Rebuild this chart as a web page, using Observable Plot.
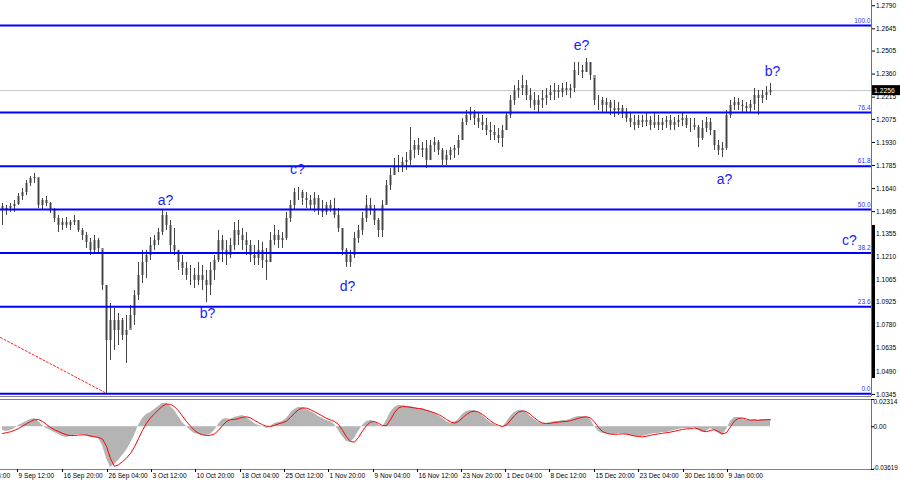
<!DOCTYPE html>
<html><head><meta charset="utf-8">
<script src="https://cdn.jsdelivr.net/npm/d3@7"></script>
<script src="https://cdn.jsdelivr.net/npm/@observablehq/plot@0.6"></script>
<style>
html,body{margin:0;padding:0;background:#fff;}
#chart{width:900px;height:485px;position:relative;overflow:hidden;background:#fff;}
#chart svg{display:block;}
</style></head><body><div id="chart"></div>
<script>
// ---- price bars (H4, sampled), bar index = position on time axis ----
const highs = [
1.1546,1.1534,1.1546,1.1565,1.1609,1.1640,1.1691,1.1716,1.1735,1.1703,
1.1578,1.1590,1.1552,1.1515,1.1471,1.1452,1.1458,1.1439,1.1471,1.1439,
1.1389,1.1364,1.1326,1.1345,1.1326,1.1251,1.1030,1.0917,1.0886,1.0854,
1.0823,1.0842,1.0905,1.0999,1.1175,1.1251,1.1251,1.1332,1.1345,1.1389,
1.1502,1.1490,1.1439,1.1389,1.1251,1.1219,1.1175,1.1156,1.1137,1.1175,
1.1156,1.1125,1.1175,1.1219,1.1376,1.1345,1.1313,1.1326,1.1427,1.1439,
1.1389,1.1364,1.1313,1.1282,1.1313,1.1301,1.1263,1.1364,1.1408,1.1376,
1.1364,1.1490,1.1565,1.1640,1.1647,1.1628,1.1615,1.1596,1.1615,1.1596,
1.1565,1.1552,1.1565,1.1578,1.1515,1.1389,1.1263,1.1251,1.1364,1.1408,
1.1490,1.1596,1.1578,1.1534,1.1452,1.1565,1.1691,1.1766,1.1829,1.1848,
1.1835,1.1867,1.2024,1.1942,1.1955,1.1930,1.1942,1.1942,1.1961,1.1942,
1.1892,1.1880,1.1898,1.1911,1.1974,1.2081,1.2131,1.2150,1.2131,1.2119,
1.2100,1.2081,1.2056,1.2037,1.2018,1.2037,1.2119,1.2225,1.2288,1.2320,
1.2351,1.2320,1.2269,1.2244,1.2225,1.2257,1.2269,1.2288,1.2301,1.2288,
1.2301,1.2307,1.2295,1.2433,1.2433,1.2414,1.2458,1.2433,1.2332,1.2225,
1.2213,1.2207,1.2194,1.2194,1.2181,1.2163,1.2144,1.2119,1.2100,1.2100,
1.2100,1.2112,1.2093,1.2119,1.2100,1.2081,1.2093,1.2100,1.2087,1.2100,
1.2112,1.2100,1.2081,1.2081,1.2037,1.2068,1.2087,1.2081,1.2005,1.1942,
1.1930,1.2131,1.2194,1.2213,1.2207,1.2194,1.2181,1.2194,1.2269,1.2257,
1.2257,1.2282,1.2301];
const lows = [
1.1408,1.1471,1.1490,1.1490,1.1534,1.1565,1.1596,1.1653,1.1672,1.1515,
1.1502,1.1527,1.1483,1.1427,1.1364,1.1376,1.1389,1.1376,1.1408,1.1364,
1.1313,1.1263,1.1219,1.1238,1.1238,1.0999,1.0352,1.0559,1.0622,1.0653,
1.0684,1.0540,1.0760,1.0779,1.0936,1.1043,1.1074,1.1188,1.1251,1.1282,
1.1345,1.1376,1.1232,1.1219,1.1125,1.1093,1.1062,1.1030,1.1011,1.1030,
1.0999,1.0923,1.0967,1.1062,1.1175,1.1175,1.1156,1.1200,1.1251,1.1282,
1.1251,1.1219,1.1175,1.1156,1.1156,1.1137,1.1062,1.1175,1.1282,1.1263,
1.1263,1.1313,1.1427,1.1502,1.1565,1.1534,1.1515,1.1502,1.1490,1.1471,
1.1458,1.1471,1.1490,1.1452,1.1364,1.1219,1.1144,1.1144,1.1200,1.1295,
1.1345,1.1427,1.1471,1.1408,1.1332,1.1332,1.1534,1.1628,1.1722,1.1741,
1.1741,1.1754,1.1785,1.1829,1.1848,1.1835,1.1766,1.1817,1.1867,1.1848,
1.1785,1.1785,1.1817,1.1829,1.1848,1.1942,1.2037,1.2068,1.2037,1.2018,
1.2005,1.1974,1.1942,1.1942,1.1924,1.1898,1.2005,1.2081,1.2163,1.2207,
1.2225,1.2194,1.2144,1.2131,1.2119,1.2144,1.2163,1.2194,1.2194,1.2207,
1.2213,1.2225,1.2207,1.2244,1.2351,1.2332,1.2370,1.2320,1.2163,1.2131,
1.2119,1.2119,1.2100,1.2087,1.2100,1.2081,1.2056,1.2024,1.2005,1.2018,
1.2024,1.2030,1.2005,1.2018,1.2005,1.2005,1.2018,1.2005,1.2005,1.2024,
1.2030,1.2018,1.1993,1.2005,1.1898,1.1942,1.1993,1.1974,1.1880,1.1848,
1.1835,1.1880,1.2081,1.2131,1.2131,1.2119,1.2112,1.2119,1.2131,1.2100,
1.2175,1.2194,1.2225];
const closes = [
1.1502,1.1515,1.1527,1.1540,1.1590,1.1615,1.1672,1.1703,1.1710,1.1534,
1.1565,1.1546,1.1502,1.1452,1.1408,1.1427,1.1408,1.1427,1.1439,1.1376,
1.1345,1.1301,1.1251,1.1313,1.1263,1.1030,1.0684,1.0810,1.0747,1.0810,
1.0716,1.0747,1.0842,1.0967,1.1093,1.1175,1.1219,1.1282,1.1313,1.1364,
1.1471,1.1408,1.1282,1.1251,1.1175,1.1137,1.1093,1.1093,1.1062,1.1093,
1.1062,1.1030,1.1125,1.1188,1.1313,1.1251,1.1219,1.1282,1.1376,1.1345,
1.1313,1.1282,1.1219,1.1200,1.1251,1.1188,1.1175,1.1313,1.1345,1.1313,
1.1326,1.1452,1.1534,1.1615,1.1615,1.1578,1.1565,1.1534,1.1578,1.1502,
1.1490,1.1534,1.1515,1.1471,1.1389,1.1251,1.1175,1.1219,1.1326,1.1376,
1.1452,1.1534,1.1502,1.1439,1.1376,1.1534,1.1659,1.1722,1.1785,1.1785,
1.1804,1.1817,1.1880,1.1911,1.1880,1.1892,1.1817,1.1911,1.1930,1.1880,
1.1817,1.1848,1.1880,1.1892,1.1942,1.2056,1.2100,1.2119,1.2081,1.2056,
1.2037,1.2005,1.1993,1.1974,1.1955,1.2005,1.2100,1.2194,1.2257,1.2269,
1.2288,1.2225,1.2194,1.2163,1.2194,1.2207,1.2225,1.2244,1.2257,1.2244,
1.2269,1.2257,1.2269,1.2383,1.2383,1.2370,1.2433,1.2351,1.2194,1.2194,
1.2163,1.2181,1.2144,1.2131,1.2144,1.2119,1.2081,1.2056,1.2037,1.2068,
1.2056,1.2068,1.2037,1.2056,1.2037,1.2056,1.2068,1.2037,1.2056,1.2068,
1.2081,1.2037,1.2037,1.2024,1.1955,1.2018,1.2056,1.2005,1.1911,1.1880,
1.1892,1.2100,1.2163,1.2181,1.2163,1.2156,1.2144,1.2169,1.2225,1.2207,
1.2225,1.2244,1.2256];
const firstOpen = 1.1527;

// ---- oscillator (histogram + signal) ----
const macd = [
-0.0031,-0.0040,-0.0031,-0.0014,0.0011,0.0028,0.0045,0.0062,0.0070,0.0045,
0.0011,-0.0014,-0.0031,-0.0048,-0.0065,-0.0082,-0.0091,-0.0082,-0.0074,-0.0065,
-0.0065,-0.0074,-0.0091,-0.0091,-0.0099,-0.0158,-0.0269,-0.0345,-0.0319,-0.0286,
-0.0243,-0.0201,-0.0142,-0.0074,0.0011,0.0070,0.0104,0.0121,0.0147,0.0172,
0.0197,0.0197,0.0172,0.0138,0.0087,0.0036,0.0003,-0.0031,-0.0057,-0.0065,
-0.0074,-0.0074,-0.0065,-0.0031,0.0019,0.0062,0.0070,0.0062,0.0079,0.0087,
0.0096,0.0079,0.0053,0.0028,0.0011,0.0003,-0.0014,0.0003,0.0028,0.0036,
0.0045,0.0070,0.0113,0.0147,0.0164,0.0164,0.0147,0.0130,0.0113,0.0087,
0.0070,0.0053,0.0045,0.0019,-0.0031,-0.0082,-0.0125,-0.0133,-0.0099,-0.0040,
0.0011,0.0045,0.0053,0.0045,0.0019,-0.0006,0.0053,0.0121,0.0164,0.0181,
0.0181,0.0172,0.0172,0.0164,0.0155,0.0155,0.0138,0.0130,0.0113,0.0096,
0.0070,0.0045,0.0028,0.0036,0.0062,0.0104,0.0130,0.0138,0.0138,0.0121,
0.0096,0.0062,0.0036,0.0019,0.0003,-0.0006,0.0036,0.0087,0.0121,0.0138,
0.0138,0.0121,0.0087,0.0062,0.0036,0.0028,0.0028,0.0036,0.0045,0.0045,
0.0053,0.0053,0.0062,0.0079,0.0087,0.0087,0.0087,0.0062,0.0003,-0.0040,
-0.0057,-0.0057,-0.0065,-0.0065,-0.0057,-0.0057,-0.0065,-0.0074,-0.0082,-0.0082,
-0.0082,-0.0074,-0.0065,-0.0057,-0.0057,-0.0048,-0.0048,-0.0040,-0.0031,-0.0023,
-0.0014,-0.0014,-0.0014,-0.0006,-0.0031,-0.0048,-0.0040,-0.0014,-0.0031,-0.0057,
-0.0074,-0.0023,0.0045,0.0079,0.0079,0.0070,0.0053,0.0053,0.0062,0.0053,
0.0062,0.0062,0.0062];
const signal = [
-0.0057,-0.0050,-0.0042,-0.0030,-0.0015,0.0005,0.0025,0.0045,0.0060,0.0062,
0.0045,0.0020,-0.0005,-0.0025,-0.0040,-0.0055,-0.0068,-0.0074,-0.0074,-0.0070,
-0.0068,-0.0070,-0.0078,-0.0085,-0.0090,-0.0105,-0.0165,-0.0270,-0.0335,-0.0322,
-0.0295,-0.0265,-0.0225,-0.0170,-0.0100,-0.0030,0.0030,0.0075,0.0110,0.0145,
0.0175,0.0193,0.0190,0.0170,0.0135,0.0090,0.0045,0.0005,-0.0030,-0.0055,
-0.0068,-0.0074,-0.0072,-0.0060,-0.0030,0.0010,0.0045,0.0060,0.0062,0.0070,
0.0080,0.0085,0.0075,0.0055,0.0035,0.0018,0.0005,0.0003,0.0012,0.0025,
0.0035,0.0048,0.0080,0.0115,0.0145,0.0160,0.0158,0.0145,0.0128,0.0110,
0.0090,0.0072,0.0058,0.0045,0.0020,-0.0030,-0.0085,-0.0125,-0.0130,-0.0090,
-0.0035,0.0010,0.0040,0.0045,0.0030,0.0010,0.0010,0.0060,0.0120,0.0160,
0.0172,0.0170,0.0165,0.0160,0.0155,0.0150,0.0140,0.0130,0.0118,0.0105,
0.0085,0.0062,0.0042,0.0032,0.0045,0.0075,0.0105,0.0125,0.0133,0.0125,
0.0105,0.0078,0.0050,0.0028,0.0012,0.0003,0.0015,0.0055,0.0095,0.0125,
0.0135,0.0128,0.0105,0.0075,0.0048,0.0032,0.0028,0.0030,0.0036,0.0040,
0.0043,0.0046,0.0052,0.0062,0.0072,0.0080,0.0085,0.0075,0.0040,-0.0005,
-0.0040,-0.0055,-0.0062,-0.0064,-0.0062,-0.0060,-0.0062,-0.0070,-0.0078,-0.0083,
-0.0085,-0.0080,-0.0072,-0.0065,-0.0060,-0.0055,-0.0050,-0.0045,-0.0038,-0.0030,
-0.0022,-0.0018,-0.0015,-0.0010,-0.0018,-0.0035,-0.0042,-0.0030,-0.0025,-0.0040,
-0.0060,-0.0050,0.0000,0.0050,0.0072,0.0075,0.0065,0.0056,0.0058,0.0055,
0.0058,0.0060,0.0060];

// ---- levels, ticks, annotations ----
const currentPrice = 1.2256;
const fibLabels = ["0.0","23.6","38.2","50.0","61.8","76.4","100.0"];
const fibPrices = [1.0350, 1.0897, 1.1235, 1.1508, 1.1781, 1.2119, 1.2666];
const priceTicks = [1.2790,1.2645,1.2505,1.2360,1.2215,1.2075,1.1930,1.1785,1.1640,1.1495,1.1355,1.1210,1.1065,1.0925,1.0780,1.0635,1.0490,1.0345];
const macdMax = 0.02314, macdMin = -0.03619;
const macdTicks = [macdMax, 0, macdMin];
const macdTickLabels = ["0.02314", "0.00", "-0.03619"];
const timeLabels = ["2 Sep 04:00","9 Sep 12:00","16 Sep 20:00","26 Sep 04:00","3 Oct 12:00","10 Oct 20:00","18 Oct 04:00","25 Oct 12:00","1 Nov 20:00","9 Nov 04:00","16 Nov 12:00","23 Nov 20:00","1 Dec 04:00","8 Dec 12:00","15 Dec 20:00","23 Dec 04:00","30 Dec 16:00","9 Jan 00:00"];
const timeBars = [-7.25,3.75,15,26.25,37.25,48.25,59.5,70.5,81.5,92.75,103.75,114.75,125.75,136.75,148,159,170.25,181.25];
const waveTexts = ["a?","b?","c?","d?","e?","a?","b?","c?"];
const waveBars = [40.75, 51.25, 73.75, 86.25, 144.75, 180.5, 192.5, 211.75];
const wavePrices = [1.1565, 1.0857, 1.1760, 1.1024, 1.2540, 1.1700, 1.2374, 1.1314];
const trendBars = [-0.5, 26];
const trendPrices = [1.0703, 1.0352];
const axisMarkerPrices = [1.1408, 1.0445];

// ---- build tables ----
const bars = highs.map((h, i) => ({
  i, high: h, low: lows[i], close: closes[i],
  open: i === 0 ? firstOpen : closes[i - 1],
  macd: macd[i] ?? 0, signal: signal[i] ?? null
}));
const waves = waveTexts.map((t, i) => ({text: t, bar: waveBars[i], price: wavePrices[i]}));
const trend = trendBars.map((b, i) => ({bar: b, price: trendPrices[i]}));
const times = timeLabels.map((t, i) => ({label: t, bar: timeBars[i]}));

const X_DOMAIN = [-0.5, 217.25];
const Y_DOMAIN = [1.0332, 1.2823];
const BLUE = "#0000ff";
const FONT = "'Liberation Sans', Arial, sans-serif";

const main = Plot.plot({
  width: 900, height: 396,
  marginLeft: 0, marginRight: 29, marginTop: 0, marginBottom: 0,
  style: {fontFamily: FONT, fontSize: "6.6px", color: "#000", background: "transparent", overflow: "visible"},
  x: {domain: X_DOMAIN, axis: null},
  y: {domain: Y_DOMAIN, axis: "right", ticks: priceTicks, tickFormat: d => d.toFixed(4), tickSize: 3, tickPadding: 1.5, label: null},
  marks: [
    Plot.ruleY([currentPrice], {stroke: "#c4c4c4", strokeWidth: 1}),
    Plot.line(trend, {x: "bar", y: "price", stroke: "#ff2020", strokeWidth: 1, strokeDasharray: "2,2"}),
    Plot.ruleX(bars, {x: "i", y1: "open", y2: "close", stroke: "#909090", strokeWidth: 2.6}),
    Plot.ruleX(bars, {x: "i", y1: "low", y2: "high", stroke: "#454545", strokeWidth: 1}),
    Plot.ruleY(fibPrices, {stroke: BLUE, strokeWidth: 2}),
    Plot.text(fibPrices, {y: d => d, text: (d, i) => fibLabels[i], frameAnchor: "right", textAnchor: "end", dx: -1, dy: -5, fill: "#3030ff", fontSize: 6.5}),
    Plot.text(waves, {x: "bar", y: "price", text: "text", fill: "#1a1aff", fontSize: 14, fontFamily: "Arial, 'Liberation Sans', sans-serif"}),
    Plot.ruleX([X_DOMAIN[1]], {stroke: "#707070"}),
    Plot.ruleX([X_DOMAIN[1]], {y1: axisMarkerPrices[0], y2: axisMarkerPrices[1], stroke: "#000", strokeWidth: 3, dx: 2}),
    Plot.ruleY([Y_DOMAIN[0]], {stroke: "#808080"})
  ]
});

const sub = Plot.plot({
  width: 900, height: 89,
  marginLeft: 0, marginRight: 29, marginTop: 3, marginBottom: 16,
  style: {fontFamily: FONT, fontSize: "6.6px", color: "#000", background: "transparent", overflow: "visible"},
  x: {domain: X_DOMAIN, axis: null},
  y: {domain: [macdMin, macdMax], axis: null},
  marks: [
    Plot.areaY(bars, {x: "i", y1: 0, y2: "macd", fill: "#b4b4b4"}),
    Plot.line(bars, {x: "i", y: "signal", stroke: "#ff0000", strokeWidth: 1}),
    Plot.ruleY([macdMax, macdMin], {stroke: "#808080"}),
    Plot.ruleX([X_DOMAIN[1]], {stroke: "#707070"}),
    Plot.ruleY(macdTicks, {insetLeft: 871, insetRight: -3, stroke: "#000"}),
    Plot.text([macdTicks[0]], {y: d => d, text: [macdTickLabels[0]], frameAnchor: "right", textAnchor: "start", dx: 2, lineAnchor: "top"}),
    Plot.text([macdTicks[1]], {y: d => d, text: [macdTickLabels[1]], frameAnchor: "right", textAnchor: "start", dx: 2}),
    Plot.text([macdTicks[2]], {y: d => d, text: [macdTickLabels[2]], frameAnchor: "right", textAnchor: "start", dx: 1.5, lineAnchor: "bottom", fontSize: 6.3}),
    Plot.ruleX(times, {x: "bar", y1: macdMin, y2: macdMin, insetBottom: -3, stroke: "#000"}),
    Plot.text(times, {x: "bar", text: "label", frameAnchor: "bottom", textAnchor: "start", dx: 1, dy: 8})
  ]
});

const root = document.getElementById("chart");
root.appendChild(main);
root.appendChild(sub);
sub.style.marginTop = "0px";

// price tag on the right axis at the current price, positioned with the chart's scales
const py = main.scale("y").apply(currentPrice);
const px = main.scale("x").apply(X_DOMAIN[1]);
const svg = d3.select(main);
svg.append("rect").attr("x", px + 1).attr("y", py - 5).attr("width", 900 - px - 1).attr("height", 10).attr("fill", "#000");
svg.append("text").attr("x", px + 3).attr("y", py).attr("dy", "0.35em")
  .attr("text-anchor", "start")
  .attr("fill", "#fff").attr("font-size", 6.8).attr("font-family", FONT)
  .text(currentPrice.toFixed(4));
</script>
</body></html>
